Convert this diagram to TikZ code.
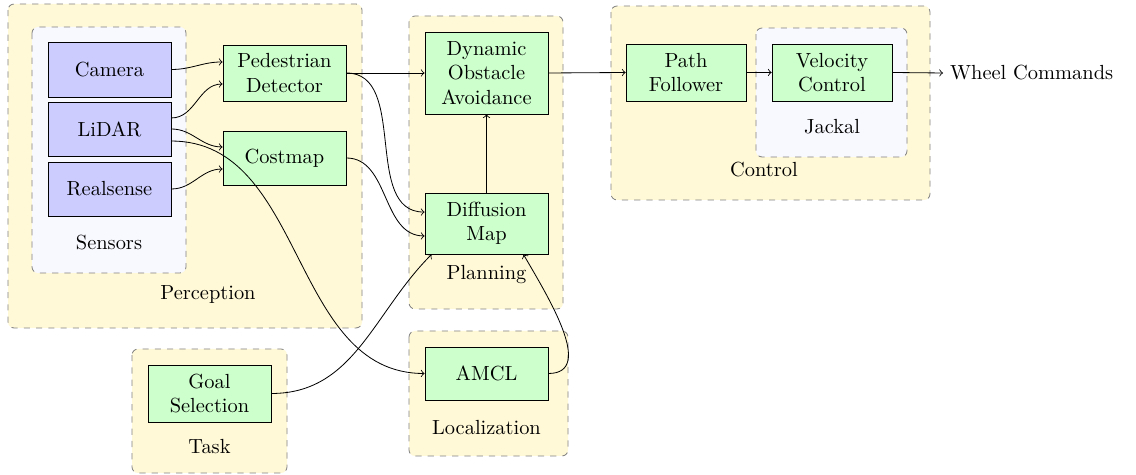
\documentclass[tikz,border=0pt]{standalone}
\usetikzlibrary{calc}
\definecolor{grpyellow}{RGB}{255,249,215}
\definecolor{grpblue}{RGB}{248,248,255}
\definecolor{nodegreen}{RGB}{204,255,204}
\definecolor{nodeblue}{RGB}{204,204,255}
\begin{document}
\begin{tikzpicture}[x=0.4895pt,y=-0.4895pt,
  grp/.style={draw=gray,dashed,rounded corners=3pt},
  outer/.style={grp,fill=grpyellow},
  inner/.style={grp,fill=grpblue},
  blk/.style={draw=black,align=center,inner sep=2pt,minimum width=60.2pt},
  gblk/.style={blk,fill=nodegreen},
  bblk/.style={blk,fill=nodeblue},
  lbl/.style={inner sep=0pt},
  arr/.style={->}]
\useasboundingbox (0,0) rectangle (1136,475);
% groups
\draw[outer] (8,4) rectangle (362,328);
\draw[inner] (32,27) rectangle (186,273);
\draw[outer] (409,16) rectangle (563,309);
\draw[outer] (409,331) rectangle (568,456);
\draw[outer] (132,349) rectangle (287,473);
\draw[outer] (611,6) rectangle (930,200);
\draw[inner] (756,28) rectangle (907,157);
% group labels
\node[lbl] (lsensors) at (109,243) {Sensors};
\node[lbl] (lperception) at (208,295) {Perception};
\node[lbl] (lplanning) at (486.5,275) {Planning};
\node[lbl] (llocal) at (486.5,428) {Localization};
\node[lbl] (ltask) at (209.5,447) {Task};
\node[lbl] (ljackal) at (832,127) {Jackal};
\node[lbl] (lcontrol) at (764,170) {Control};
% blocks
\node[bblk,minimum height=26.9pt] (camera) at (109.5,69.5) {Camera};
\node[bblk,minimum height=26.4pt] (lidar) at (109.5,129) {LiDAR};
\node[bblk,minimum height=26.4pt] (realsense) at (109.5,189) {Realsense};
\node[gblk,minimum height=27.4pt] (ped) at (284.5,73) {Pedestrian\\Detector};
\node[gblk,minimum height=26.4pt] (costmap) at (284.5,158) {Costmap};
\node[gblk,minimum height=40.1pt] (dyn) at (486.5,73) {Dynamic\\Obstacle\\Avoidance};
\node[gblk,minimum height=29.9pt] (diff) at (486.5,223.5) {Diffusion\\Map};
\node[gblk,minimum height=25.9pt] (amcl) at (486.5,373.5) {AMCL};
\node[gblk,minimum height=27.9pt] (goal) at (209.5,393.5) {Goal\\Selection};
\node[gblk,minimum height=27.9pt,minimum width=58.7pt] (pf) at (686,72.5) {Path\\Follower};
\node[gblk,minimum height=27.9pt,minimum width=58.7pt] (vc) at (832,72.5) {Velocity\\Control};
\node[anchor=west] (wheel) at (943,73) {Wheel Commands};
% connectors
\draw[arr] (camera.east) to[out=0,in=180] ([yshift=5.4pt]ped.west);
\draw[arr] ([yshift=5.4pt]lidar.east) to[out=0,in=180] ([yshift=-5.4pt]ped.west);
\draw[arr] (lidar.east) to[out=0,in=180] ([yshift=5.4pt]costmap.west);
\draw[arr] ([yshift=-5.9pt]lidar.east) to[out=0,in=180] (amcl.west);
\draw[arr] (realsense.east) to[out=0,in=180] ([yshift=-5.4pt]costmap.west);
\draw[arr] (ped.east) -- (dyn.west);
\draw[arr] (ped.east) to[out=0,in=180] ([yshift=5.6pt]diff.west);
\draw[arr] (costmap.east) to[out=0,in=180] ([yshift=-6.1pt]diff.west);
\draw[arr] (diff.north) -- (dyn.south);
\draw[arr] (goal.east) to[out=0,in=-135] ([xshift=3.4pt]diff.south west);
\draw[arr] (amcl.east) to[out=0,in=-60] ([xshift=-12.2pt]diff.south east);
\draw[arr] (dyn.east) -- (pf.west);
\draw[arr] (pf.east) -- (vc.west);
\draw[arr] (vc.east) -- (wheel.west);
\end{tikzpicture}
\end{document}
